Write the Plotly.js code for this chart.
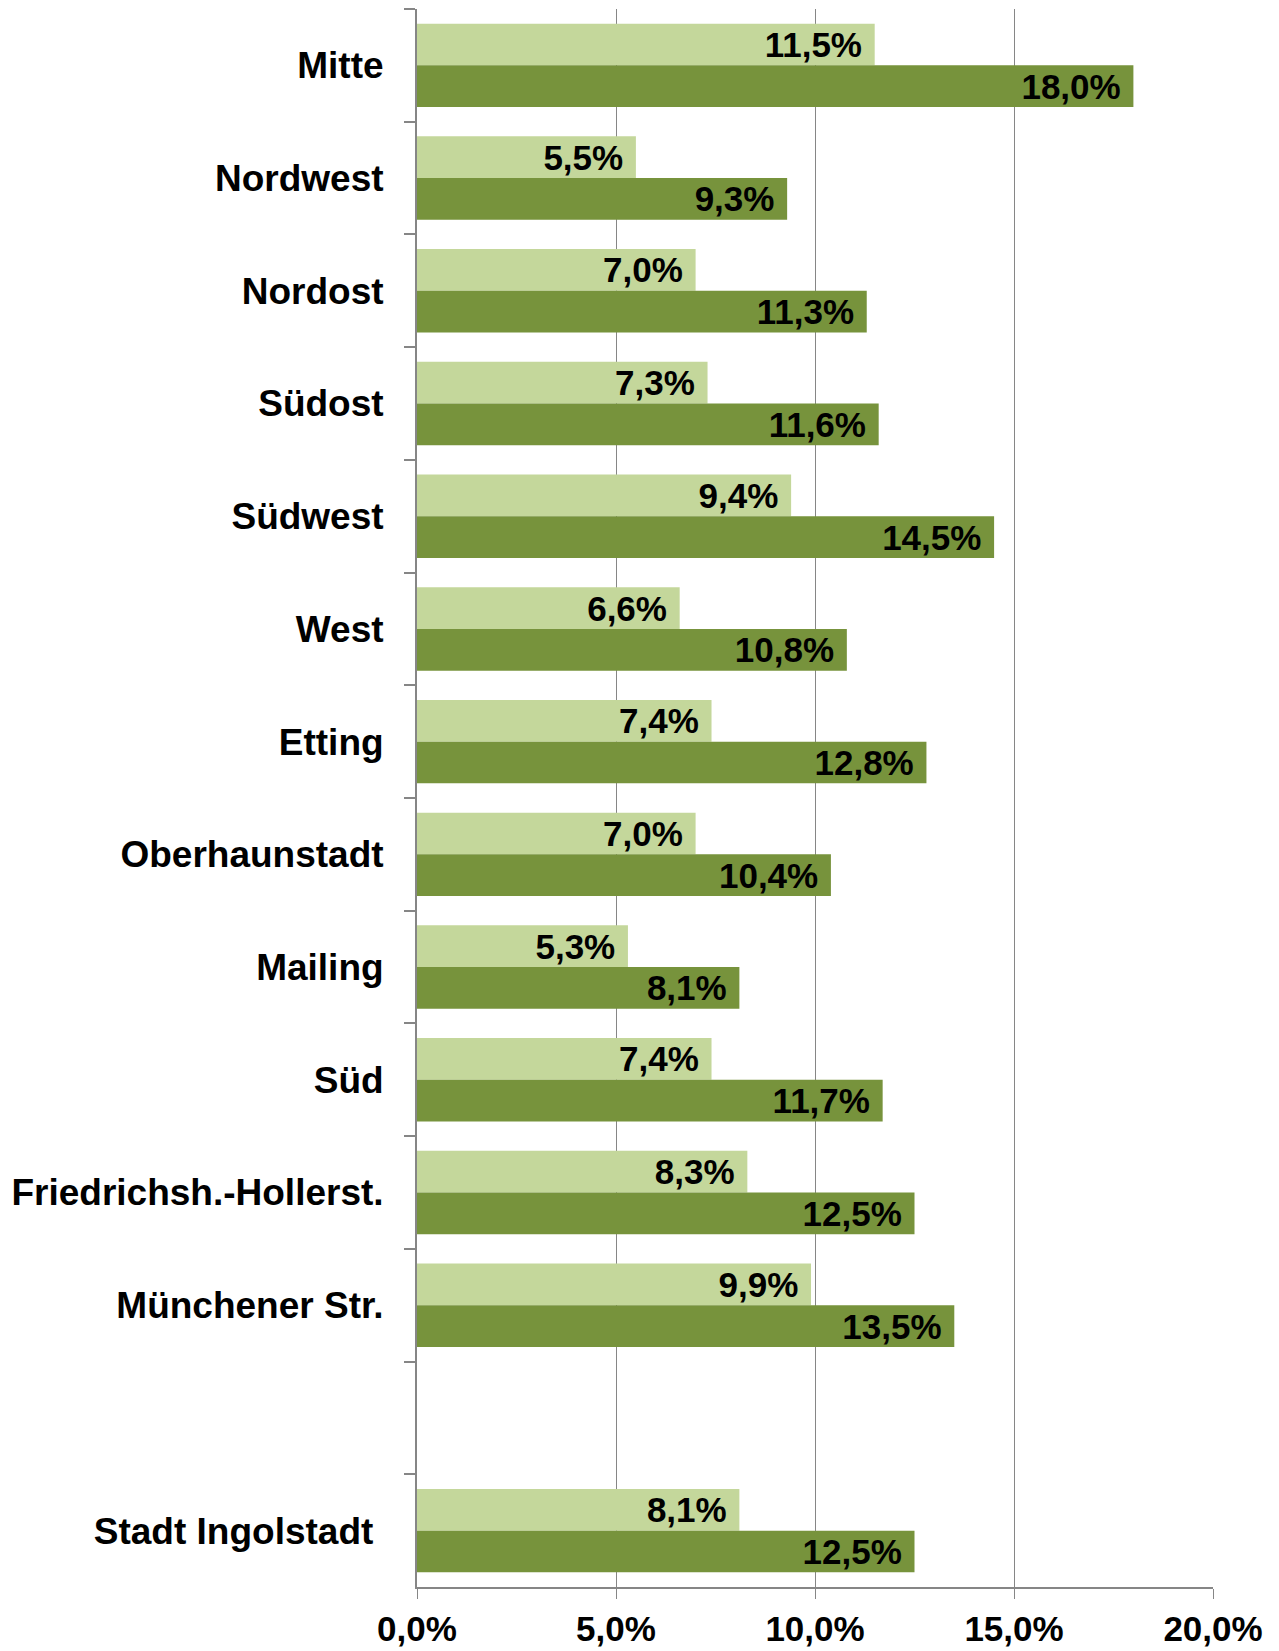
<!DOCTYPE html>
<html>
<head>
<meta charset="utf-8">
<script src="https://cdn.plot.ly/plotly-3.0.1.min.js"></script>
<style>html,body{margin:0;padding:0;background:#fff;}#chart{width:1279px;height:1651px;}</style>
</head>
<body>
<div id="chart"></div>
<script>
var categories = ["Mitte","Nordwest","Nordost","Südost","Südwest","West","Etting","Oberhaunstadt","Mailing","Süd","Friedrichsh.-Hollerst.","Münchener Str."," ","Stadt Ingolstadt\u00a0"];
var seriesLight = [11.5, 5.5, 7.0, 7.3, 9.4, 6.6, 7.4, 7.0, 5.3, 7.4, 8.3, 9.9, null, 8.1];
var seriesDark  = [18.0, 9.3, 11.3, 11.6, 14.5, 10.8, 12.8, 10.4, 8.1, 11.7, 12.5, 13.5, null, 12.5];
var xTicks = [0, 5, 10, 15, 20];
var xTickLabels = ["0,0%", "5,0%", "10,0%", "15,0%", "20,0%"];

var fontFam = 'Liberation Sans';
function barTrace(vals, color, name){
  return {
    type: 'bar', orientation: 'h', name: name,
    y: categories, x: vals,
    marker: {color: color},
    texttemplate: '%{x:.1f}%\u00a0',
    textposition: 'inside', insidetextanchor: 'end',
    constraintext: 'none',
    textfont: {family: fontFam, size: 35, color: '#000', weight: 'bold'},
    cliponaxis: false,
    hoverinfo: 'skip'
  };
}
var data = [barTrace(seriesLight, '#C4D79B', 'Serie 1'), barTrace(seriesDark, '#77933C', 'Serie 2')];
var layout = {
  width: 1279, height: 1651,
  margin: {l: 417, r: 66, t: 9, b: 64},
  paper_bgcolor: '#fff', plot_bgcolor: '#fff',
  separators: ',.',
  barmode: 'group', bargap: 0.26, bargroupgap: 0,
  showlegend: false,
  font: {family: fontFam, color: '#000'},
  xaxis: {
    range: [0, 20], tickmode: 'array', tickvals: xTicks, ticktext: xTickLabels,
    showgrid: true, gridcolor: '#868686', gridwidth: 1,
    zeroline: false,
    showline: true, linecolor: '#868686', linewidth: 2, mirror: false,
    ticks: 'outside', ticklen: 10, tickcolor: '#868686', tickwidth: 1,
    tickfont: {family: fontFam, size: 35, color: '#000', weight: 'bold'},
    ticklabelstandoff: 0
  },
  yaxis: {
    type: 'category', autorange: 'reversed',
    categoryorder: 'array', categoryarray: categories,
    showline: true, linecolor: '#868686', linewidth: 2,
    ticks: 'outside', tickson: 'boundaries', ticklen: 11, tickcolor: '#868686', tickwidth: 2,
    showgrid: false, zeroline: false,
    tickfont: {family: fontFam, size: 37, color: '#000', weight: 'bold'},
    ticklabelstandoff: 24
  }
};
Plotly.newPlot('chart', data, layout, {displayModeBar: false, staticPlot: true});
</script>
</body>
</html>
